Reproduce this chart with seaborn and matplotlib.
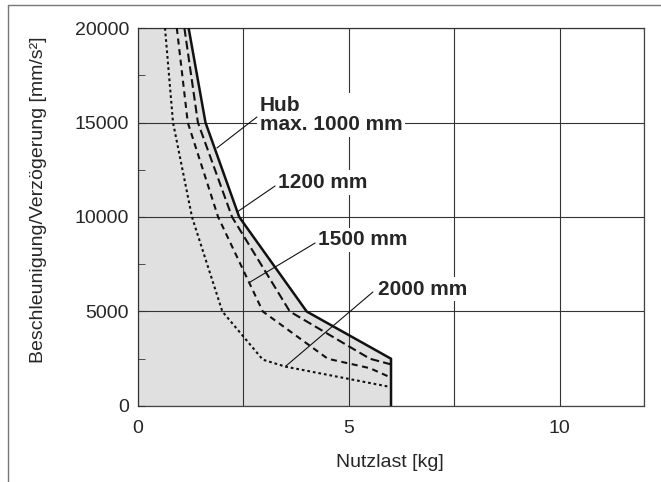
import numpy as np
import pandas as pd
import seaborn as sns
import matplotlib.pyplot as plt
from matplotlib.lines import Line2D

# Werte
x_1000 = [1.2, 1.6, 2.4, 4.0, 6.0, 6.0]
y_1000 = [20000, 15000, 10000, 5000, 2500, 0]
x_1200 = [1.1, 1.42, 2.23, 3.6, 5.5, 6.0]
y_1200 = [20000, 15000, 10000, 5000, 2500, 2200]
x_1500 = [0.92, 1.18, 1.9, 2.96, 4.5, 5.5, 6.0]
y_1500 = [20000, 15000, 10000, 5000, 2500, 2000, 1500]
x_2000 = [0.64, 0.83, 1.28, 2.0, 2.96, 3.5, 6.0]
y_2000 = [20000, 15000, 10000, 5000, 2450, 2080, 1000]

hub_labels = ['Hub\nmax. 1000 mm', '1200 mm', '1500 mm', '2000 mm']

sns.set_style('white')
plt.rcParams['font.family'] = ['Liberation Sans', 'DejaVu Sans']

fig = plt.figure(figsize=(6.61, 4.82), dpi=100)
ax = fig.add_axes([0.2088, 0.1577, 0.7655, 0.7842])

# Grauer Bereich unter der Grenzkurve
ax.fill(np.r_[0, x_1000, 0], np.r_[20000, y_1000, 0], color='#e0e0e0',
        linewidth=0, zorder=1)

frames = []
for name, xs, ys in [('1000', x_1000, y_1000), ('1200', x_1200, y_1200),
                     ('1500', x_1500, y_1500), ('2000', x_2000, y_2000)]:
    frames.append(pd.DataFrame({'last': xs, 'acc': ys, 'hub': name}))
df = pd.concat(frames)

styles = {'1000': ('-', 1.8), '1200': ((0, (4.2, 2.0)), 1.5),
          '1500': ((0, (2.9, 2.2)), 1.5), '2000': ((0, (1.3, 1.4)), 1.5)}
for name, sub in df.groupby('hub'):
    ls, lw = styles[name]
    sns.lineplot(data=sub, x='last', y='acc', sort=False, estimator=None,
                 color='#111111', linestyle=ls, linewidth=lw, ax=ax, zorder=3)

ax.set_xlim(0, 12)
ax.set_ylim(0, 20000)
ax.set_xticks([0, 5, 10])
ax.set_xticks([2.5, 7.5, 12], minor=True)
ax.set_yticks([0, 5000, 10000, 15000, 20000])
ax.set_yticks([2500, 7500, 12500, 17500], minor=True)
ax.grid(True, which='major', color='#333333', linewidth=0.8, zorder=2)
ax.grid(True, which='minor', axis='x', color='#333333', linewidth=0.8, zorder=2)
ax.set_axisbelow(False)
ax.tick_params(axis='y', which='both', direction='in', length=5, left=True,
               labelsize=14, color='#333333', pad=6.5)
ax.tick_params(axis='x', which='both', length=0, labelsize=14, pad=10)
for s in ax.spines.values():
    s.set_color('#444444')
    s.set_linewidth(0.9)

ax.set_xlabel('Nutzlast [kg]', fontsize=14)
ax.set_ylabel('Beschleunigung/Verzögerung [mm/s²]', fontsize=14)
ax.xaxis.set_label_coords(0.498, -0.128)
ax.yaxis.set_label_coords(-0.18, 0.545)

# Beschriftungen mit Hinweislinien
bbox = dict(facecolor='white', edgecolor='none', pad=2)
txt_pos = [(2.89, 15400), (3.32, 11825), (4.27, 8783), (5.69, 6190)]
line_from = [(2.82, 15291), (3.25, 11640), (4.2, 8624), (5.57, 6032)]
line_to = [(1.87, 13650), (2.35, 10265), (2.66, 6561), (3.5, 2100)]
for lab, tp, lf, lt in zip(hub_labels, txt_pos, line_from, line_to):
    ax.text(tp[0], tp[1], lab, fontsize=15, fontweight='bold', ha='left',
            va='center', bbox=bbox, zorder=4, linespacing=1.0)
    ax.plot([lf[0], lt[0]], [lf[1], lt[1]], color='#111111', linewidth=0.8, zorder=5)

# Rahmenlinien der Abbildung
fig.add_artist(Line2D([0.012, 1], [0.99, 0.99], color='#777777', linewidth=1))
fig.add_artist(Line2D([0.012, 0.012], [0, 0.99], color='#777777', linewidth=1))

fig.savefig('out.png', dpi=100)
